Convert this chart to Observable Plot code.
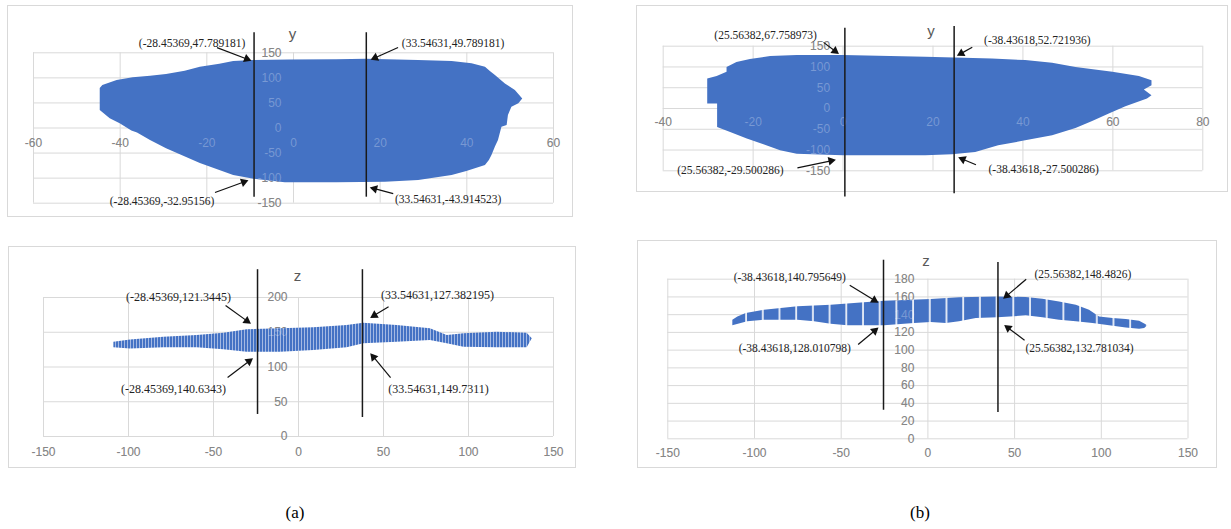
<!DOCTYPE html>
<html>
<head>
<meta charset="utf-8">
<script src="https://cdn.jsdelivr.net/npm/d3@7"></script>
<script src="https://cdn.jsdelivr.net/npm/@observablehq/plot@0.6"></script>
<style>
  body { margin: 0; background: #fff; }
  #root { position: relative; width: 1231px; height: 529px; overflow: hidden; background: #fff; }
  .panel { position: absolute; border: 1px solid #d9d9d9; box-sizing: border-box; }
  .panel svg { position: absolute; left: -1px; top: -1px; overflow: visible; max-width: none; }
  .cap { position: absolute; width: 60px; text-align: center; font-family: "Liberation Serif", "Times New Roman", serif; font-size: 17px; color: #000; line-height: 20px; }
</style>
</head>
<body>
<div id="root"></div>
<script>
// ---------------- DATA ----------------
// (a) top : y vs x
const yaXTicks = [-60, -40, -20, 0, 20, 40, 60];
const yaYTicks = [-150, -100, -50, 0, 50, 100, 150];
const yaOutline = [[-44.6,78.7],[-44,84.7],[-40.7,94.6],[-37,100],[-33,103],[-29.3,106.6],[-25,113],[-21.5,121],[-17,127],[-13.8,132.5],[-9.1,134.5],[-0.8,135.8],[10,136],[16.8,137],[28.8,134.5],[36.6,132.5],[41.2,128],[44.3,121],[45.5,112],[46.6,104.6],[48.9,88],[51.2,74.7],[52.9,58],[52,48.2],[50.4,41.4],[49.6,25],[49.3,5],[48.1,1.6],[47.3,-25],[46.6,-38],[45.8,-55],[45.2,-65],[44.3,-75],[40,-87],[36.6,-94.6],[28.9,-104.6],[21.2,-108],[10,-109],[-1.9,-109],[-9.1,-102],[-13.8,-94.6],[-21.5,-71],[-29.3,-41.6],[-33,-25],[-36,-10],[-37.3,-6],[-40,8.6],[-42.3,18.6],[-44.6,35]];
const yaLineX = [-9.1, 16.8];
const yaLineTop = [190, 190];
const yaLineBottom = [-138, -138];
const yaAnnText = ["(-28.45369,47.789181)", "(-28.45369,-32.95156)", "(33.54631,49.789181)", "(33.54631,-43.914523)"];
const yaAnnX = [-9.8, -10.5, 17.9, 17.7];
const yaAnnY = [134.5, -104.6, 136.5, -118.8];

// (b) top : y vs x
const ybXTicks = [-40, -20, 0, 20, 40, 60, 80];
const ybYTicks = [-150, -100, -50, 0, 50, 100, 150];
const ybOutline = [[-30.1,71],[-28,76.8],[-25.8,87],[-25.8,99],[-23.6,111],[-20.6,118],[-16.1,125],[-10.2,127.5],[0.1,127.5],[18.4,123.4],[33.2,119],[40.6,115.5],[46.6,109],[51.8,99],[60,87],[65.9,76.8],[68.7,67],[68.7,55],[67,44.7],[68.7,30.9],[67.7,22.9],[62.9,4.3],[59.2,-13.3],[55.5,-31],[51.8,-48],[46.6,-65.7],[40.6,-77.8],[34.6,-89.9],[29.5,-106],[24.3,-111.6],[18.4,-114],[0.1,-114],[-10.2,-110],[-13.9,-101.9],[-17.6,-87.4],[-21.3,-73.7],[-25,-57.7],[-27.9,-45.6],[-27.9,10.8],[-30.1,10.8]];
const ybLineX = [0.4, 24.7];
const ybLineTop = [193.5, 197.6];
const ybLineBottom = [-213, -205];
const ybAnnText = ["(25.56382,67.758973)", "(25.56382,-29.500286)", "(-38.43618,52.721936)", "(-38.43618,-27.500286)"];
const ybAnnX = [-1, -1.7, 25.4, 25.7];
const ybAnnY = [132, -123.7, 127.5, -118];

// (a) bottom : z vs x
const zaXTicks = [-150, -100, -50, 0, 50, 100, 150];
const zaYTicks = [0, 50, 100, 150, 200];
const zaOutline = [[-108.6,135.7],[-98.8,139],[-79.2,142.9],[-59.6,145.3],[-43.9,148.6],[-30.2,153.5],[-10.6,155],[9,156.4],[28.6,159.7],[38.4,163],[58,159.7],[77.6,155],[87.5,145.3],[97.3,147.8],[116.9,150.1],[134.5,148.6],[137.5,140.6],[134.5,127.6],[116.9,127.6],[97.3,128.5],[87.5,133.4],[77.6,138.1],[58,135.7],[38.4,133.4],[28.6,127.6],[9,123.7],[-10.6,121.3],[-30.2,121.3],[-43.9,124.7],[-59.6,127.6],[-79.2,127.6],[-98.8,126],[-108.6,127.6]];
const zaLineX = [-24.1, 37.6];
const zaLineTop = [240, 240];
const zaLineBottom = [31.7, 27.3];
const zaAnnText = ["(-28.45369,121.3445)", "(-28.45369,140.6343)", "(33.54631,127.382195)", "(33.54631,149.7311)"];
const zaAnnX = [-28.2, -27, 42.4, 42.4];
const zaAnnY = [162.6, 112.2, 171, 119.4];

// (b) bottom : z vs x
const zbXTicks = [-150, -100, -50, 0, 50, 100, 150];
const zbYTicks = [0, 20, 40, 60, 80, 100, 120, 140, 160, 180];
const zbOutline = [[-112.5,133.7],[-109.6,137.5],[-104.8,141.3],[-94.3,145],[-84.6,146.9],[-75,148.8],[-55.8,150.6],[-36.6,153.3],[-25,155],[1.9,157],[18.2,159],[40.4,160],[56.7,159.3],[66.3,157.4],[75.9,154.4],[85.6,150.6],[93.2,145],[99,137.5],[106.8,135.6],[114.4,134.5],[122.1,132.6],[126.9,127.4],[125,124.5],[122.1,123.6],[114.4,125.1],[104.8,127.4],[95.2,130],[85.6,131.9],[75.9,133.7],[66.3,136.4],[56.7,138.7],[40.4,136.4],[27.9,135.6],[18.2,131.9],[10.6,130],[1.9,131.1],[-7.7,130],[-25,127.4],[-46.2,127.4],[-55.8,129.2],[-65.4,131.9],[-75,133.7],[-94.3,133.7],[-103.9,131.9],[-112.5,127.4]];
const zbLineX = [-25.6, 40.4];
const zbLineTop = [201.4, 198.8];
const zbLineBottom = [32.2, 29.7];
const zbAnnText = ["(-38.43618,140.795649)", "(-38.43618,128.010798)", "(25.56382,148.4826)", "(25.56382,132.781034)"];
const zbAnnX = [-28.7, -28.7, 43.6, 44.2];
const zbAnnY = [153.7, 125.1, 158.2, 128.1];

const panelTitles = ["y", "y", "z", "z"];
const captions = ["(a)", "(b)"];

// ---------------- LAYOUT (pixels) ----------------
const layouts = [
  { id: "ya", left: 7, top: 5, width: 566, height: 212, ml: 26, mr: 20, mt: 47.3, mb: 14.3,
    xdy: 15.5, ydx: -12, titleDy: -24, titleDx: -1, annSize: 11.5, pattern: null,
    tail: [[-34,-13],[-33,12],[27,-12],[23,6]], label: [[-59,-17],[-86,21],[82,-16],[78,12]] },
  { id: "yb", left: 636, top: 5, width: 592, height: 187, ml: 26.7, mr: 25.7, mt: 40.7, mb: 21.7,
    xdy: 14, ydx: -13, titleDy: -21, titleDx: -2, annSize: 11.5, pattern: null,
    tail: [[-15,-11.3],[-38,8],[15,-8.3],[17.3,7.3]], label: [[-73,-18],[-105,10],[80,-15.7],[85,12.3]] },
  { id: "za", left: 8, top: 246, width: 568, height: 222, ml: 35, mr: 23, mt: 51, mb: 32,
    xdy: 16, ydx: -11, titleDy: -27, titleDx: -1, annSize: 12,
    pattern: { w: 3, x: 2, bw: 1, color: "#a4b9e3" },
    tail: [[-25,-18],[-25,19],[18,-11],[20,24]], label: [[-72,-26],[-79,31],[67,-22],[68,36]] },
  { id: "zb", left: 637, top: 240, width: 580, height: 228, ml: 30.3, mr: 29.5, mt: 38.7, mb: 29.7,
    xdy: 14, ydx: -13.5, titleDy: -24, titleDx: -2, annSize: 11.5,
    pattern: { w: 16.7, x: 8.1, bw: 1.6, color: "#ffffff" },
    tail: [[-28.4,-17.3],[-20,16.7],[22.7,-19.3],[20,15]], label: [[-88.4,-25.7],[-83.4,20],[79.4,-24],[75,23.3]] }
];
const panelData = [
  { xTicks: yaXTicks, yTicks: yaYTicks, outline: yaOutline, lineX: yaLineX, lineTop: yaLineTop, lineBottom: yaLineBottom, annText: yaAnnText, annX: yaAnnX, annY: yaAnnY, title: panelTitles[0] },
  { xTicks: ybXTicks, yTicks: ybYTicks, outline: ybOutline, lineX: ybLineX, lineTop: ybLineTop, lineBottom: ybLineBottom, annText: ybAnnText, annX: ybAnnX, annY: ybAnnY, title: panelTitles[1] },
  { xTicks: zaXTicks, yTicks: zaYTicks, outline: zaOutline, lineX: zaLineX, lineTop: zaLineTop, lineBottom: zaLineBottom, annText: zaAnnText, annX: zaAnnX, annY: zaAnnY, title: panelTitles[2] },
  { xTicks: zbXTicks, yTicks: zbYTicks, outline: zbOutline, lineX: zbLineX, lineTop: zbLineTop, lineBottom: zbLineBottom, annText: zbAnnText, annX: zbAnnX, annY: zbAnnY, title: panelTitles[3] }
];

const BLUE = "#4472C4";
const SANS = "'Liberation Sans', Arial, sans-serif";
const SERIF = "'Liberation Serif', 'Times New Roman', serif";

function drawPanel(cfg, data) {
  const { width, height, ml, mr, mt, mb } = cfg;
  const xd = [data.xTicks[0], data.xTicks[data.xTicks.length - 1]];
  const yd = [data.yTicks[0], data.yTicks[data.yTicks.length - 1]];
  const kx = (width - ml - mr) / (xd[1] - xd[0]);
  const ky = (height - mt - mb) / (yd[1] - yd[0]);
  const back = 4.5;
  const ann = data.annText.map((t, i) => {
    const [tx, ty] = cfg.tail[i];
    const [lx, ly] = cfg.label[i];
    const x = data.annX[i], y = data.annY[i];
    const len = Math.hypot(tx, ty);
    const ux = -tx / len, uy = -ty / len;
    return {
      text: t,
      x1: x + tx / kx, y1: y - ty / ky,
      hx: x - ux * back / kx, hy: y + uy * back / ky,
      lx: x + lx / kx, ly: y - ly / ky,
      rot: Math.atan2(ux, -uy) * 180 / Math.PI
    };
  });
  const lines = data.lineX.map((x, i) => ({ x, y1: data.lineTop[i], y2: data.lineBottom[i] }));
  const pts = data.outline.map(([x, y]) => ({ x, y }));
  const p0 = pts[0];
  const xLab = (o) => Plot.text(data.xTicks, { x: d => d, y: yd[0] < 0 ? 0 : yd[0], dy: cfg.xdy, text: d => String(d), fontFamily: SANS, fontSize: 12, ...o });
  const yLab = (o) => Plot.text(data.yTicks, { x: 0, y: d => d, dx: cfg.ydx, textAnchor: "end", text: d => String(d), fontFamily: SANS, fontSize: 12, ...o });

  const svg = Plot.plot({
    width, height,
    marginLeft: ml, marginRight: mr, marginTop: mt, marginBottom: mb,
    x: { domain: xd, axis: null },
    y: { domain: yd, axis: null },
    style: { overflow: "visible", background: "transparent" },
    marks: [
      Plot.ruleX(data.xTicks, { x: d => d, stroke: "#d9d9d9", strokeWidth: 1 }),
      Plot.ruleY(data.yTicks, { y: d => d, stroke: "#d9d9d9", strokeWidth: 1 }),
      xLab({ fill: "#595959" }),
      yLab({ fill: "#595959" }),
      // closed outline of the point cloud: area running along the outline and back to its first point
      Plot.area(pts, { x1: "x", y1: "y", x2: p0.x, y2: p0.y, fill: BLUE, curve: "linear" }),
      xLab({ fill: "#ffffff", fillOpacity: 0.28 }),
      yLab({ fill: "#ffffff", fillOpacity: 0.28 }),
      Plot.text([data.title], { frameAnchor: "top", dy: cfg.titleDy, dx: cfg.titleDx, text: d => d, fontFamily: SANS, fontSize: 15, fill: "#595959" }),
      Plot.ruleX(lines, { x: "x", y1: "y1", y2: "y2", stroke: "#1a1a1a", strokeWidth: 1.5 }),
      Plot.link(ann, { x1: "x1", y1: "y1", x2: "hx", y2: "hy", stroke: "#111", strokeWidth: 1.2 }),
      Plot.dot(ann, { x: "hx", y: "hy", symbol: "triangle", r: 3.2, rotate: "rot", fill: "#111", stroke: "none" }),
      Plot.text(ann, { x: "lx", y: "ly", text: "text", fontFamily: SERIF, fontSize: cfg.annSize, fill: "#222" })
    ]
  });

  if (cfg.pattern) {
    const p = cfg.pattern;
    const sel = d3.select(svg);
    const defs = sel.insert("defs", ":first-child");
    const pid = "pat-" + cfg.id;
    const pat = defs.append("pattern").attr("id", pid).attr("patternUnits", "userSpaceOnUse")
      .attr("width", p.w).attr("height", 20);
    pat.append("rect").attr("width", p.w).attr("height", 20).attr("fill", BLUE);
    pat.append("rect").attr("x", p.x).attr("width", p.bw).attr("height", 20).attr("fill", p.color);
    sel.selectAll('g[aria-label="area"] path').attr("fill", `url(#${pid})`);
  }

  const div = document.createElement("div");
  div.className = "panel";
  div.style.left = cfg.left + "px";
  div.style.top = cfg.top + "px";
  div.style.width = width + "px";
  div.style.height = height + "px";
  div.appendChild(svg);
  return div;
}

const root = document.getElementById("root");
layouts.forEach((cfg, i) => root.appendChild(drawPanel(cfg, panelData[i])));

const capPos = [[265, 503], [890, 503]];
captions.forEach((c, i) => {
  const d = document.createElement("div");
  d.className = "cap";
  d.style.left = capPos[i][0] + "px";
  d.style.top = capPos[i][1] + "px";
  d.textContent = c;
  root.appendChild(d);
});
</script>
</body>
</html>
